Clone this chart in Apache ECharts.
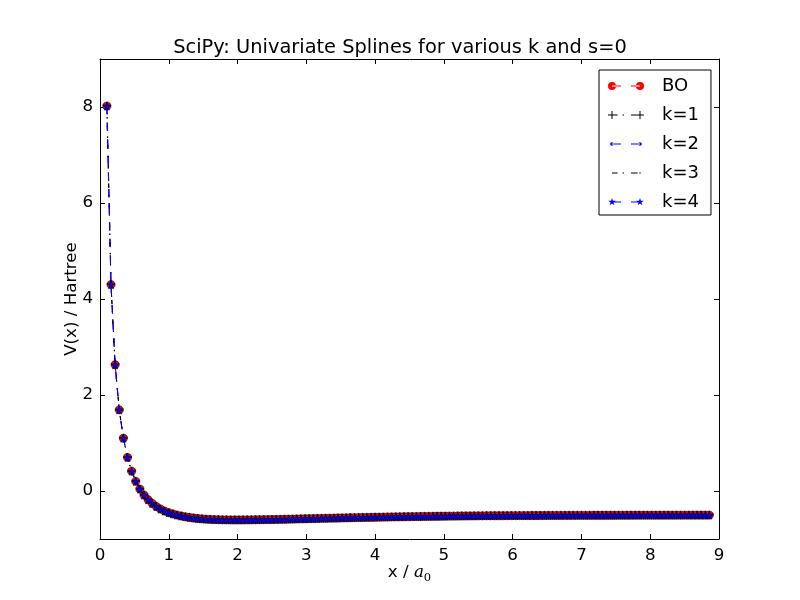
<!DOCTYPE html>
<html><head><meta charset="utf-8">
<script src="https://cdn.jsdelivr.net/npm/echarts@6/dist/echarts.min.js"></script>
<style>html,body{margin:0;padding:0;background:#fff}#c{width:800px;height:600px}</style>
</head><body><div id="c"></div>
<script>
// ---- data ----
const xs = [0.10,0.16,0.22,0.28,0.34,0.40,0.46,0.52,0.58,0.64,
0.70,0.76,0.82,0.88,0.94,1.00,1.06,1.12,1.18,1.24,
1.30,1.36,1.42,1.48,1.54,1.60,1.66,1.72,1.78,1.84,
1.90,1.96,2.02,2.08,2.14,2.20,2.26,2.32,2.38,2.44,
2.50,2.56,2.62,2.68,2.74,2.80,2.86,2.92,2.98,3.04,
3.10,3.16,3.22,3.28,3.34,3.40,3.46,3.52,3.58,3.64,
3.70,3.76,3.82,3.88,3.94,4.00,4.06,4.12,4.18,4.24,
4.30,4.36,4.42,4.48,4.54,4.60,4.66,4.72,4.78,4.84,
4.90,4.96,5.02,5.08,5.14,5.20,5.26,5.32,5.38,5.44,
5.50,5.56,5.62,5.68,5.74,5.80,5.86,5.92,5.98,6.04,
6.10,6.16,6.22,6.28,6.34,6.40,6.46,6.52,6.58,6.64,
6.70,6.76,6.82,6.88,6.94,7.00,7.06,7.12,7.18,7.24,
7.30,7.36,7.42,7.48,7.54,7.60,7.66,7.72,7.78,7.84,
7.90,7.96,8.02,8.08,8.14,8.20,8.26,8.32,8.38,8.44,
8.50,8.56,8.62,8.68,8.74,8.80,8.86];

const bo = [8.02,4.30,2.63,1.69,1.10,0.70,0.413,0.201,0.040,-0.084,
-0.182,-0.260,-0.324,-0.376,-0.418,-0.452,-0.478,-0.501,-0.521,-0.538,
-0.552,-0.563,-0.573,-0.580,-0.586,-0.591,-0.595,-0.598,-0.600,-0.6015,
-0.6024,-0.6026,-0.6025,-0.6020,-0.6012,-0.6003,-0.5992,-0.5981,-0.5968,-0.5954,
-0.5938,-0.5920,-0.5902,-0.5883,-0.5864,-0.5845,-0.5824,-0.5803,-0.5782,-0.5762,
-0.5742,-0.5721,-0.5701,-0.5682,-0.5662,-0.5643,-0.5624,-0.5606,-0.5587,-0.5569,
-0.5551,-0.5532,-0.5514,-0.5496,-0.5479,-0.5461,-0.5446,-0.5431,-0.5416,-0.5401,
-0.5387,-0.5373,-0.5360,-0.5347,-0.5334,-0.5321,-0.5309,-0.5296,-0.5284,-0.5272,
-0.5261,-0.5250,-0.5240,-0.5230,-0.5221,-0.5212,-0.5203,-0.5195,-0.5187,-0.5179,
-0.5172,-0.5165,-0.5158,-0.5152,-0.5146,-0.5141,-0.5136,-0.5131,-0.5127,-0.5122,
-0.5118,-0.5114,-0.5110,-0.5106,-0.5102,-0.5098,-0.5094,-0.5090,-0.5087,-0.5083,
-0.5080,-0.5076,-0.5073,-0.5070,-0.5067,-0.5064,-0.5062,-0.5060,-0.5057,-0.5055,
-0.5053,-0.5051,-0.5049,-0.5047,-0.5045,-0.5043,-0.5042,-0.5040,-0.5039,-0.5037,
-0.5036,-0.5035,-0.5034,-0.5033,-0.5031,-0.5030,-0.5029,-0.5028,-0.5027,-0.5027,
-0.5026,-0.5025,-0.5024,-0.5023,-0.5022,-0.5022,-0.5021];

// splines with s=0 interpolate the data exactly at the sample points
const splineK1 = bo, splineK2 = bo, splineK3 = bo, splineK4 = bo;

const seriesNames = ['BO','k=1','k=2','k=3','k=4'];
const xTicks = [0,1,2,3,4,5,6,7,8,9];
const yTicks = [0,2,4,6,8];
const titleText = 'SciPy: Univariate Splines for various k and s=0';
const yLabel = 'V(x) / Hartree';

// ---- styling ----
const FONT = 'DejaVu Sans';
const DASH = [8.3, 8.3];
const DASHDOT = [4.2, 6.9, 1.4, 6.9];
const STAR = 'path://M50,0L61.23,34.55L97.55,34.55L68.17,55.9L79.39,90.45L50,69.1L20.61,90.45L31.83,55.9L2.45,34.55L38.77,34.55Z';
const PLUS = 'path://M3.5,0H4.5V3.5H8V4.5H4.5V8H3.5V4.5H0V3.5H3.5Z';
const ANCH = 'M0,0L0,0M49,8L49,8';
const circ = (cx, r) => `M${cx-r},4A${r},${r},0,1,0,${cx+r},4A${r},${r},0,1,0,${cx-r},4Z`;
const rect = (a, b) => `M${a},3.5H${b}V4.5H${a}Z`;
const star = (dx) => `M${4+dx},0L${4.9+dx},2.76L${7.8+dx},2.76L${5.45+dx},4.47L${6.35+dx},7.24L${4+dx},5.53L${1.65+dx},7.24L${2.55+dx},4.47L${0.2+dx},2.76L${3.1+dx},2.76Z`;
const plus = (dx) => `M${3.5+dx},0H${4.5+dx}V3.5H${8+dx}V4.5H${4.5+dx}V8H${3.5+dx}V4.5H${dx}V3.5H${3.5+dx}Z`;
const icons = {
  'BO': 'path://' + ANCH + circ(4,4) + circ(32,4) + rect(4,13) + rect(23,32),
  'k=1': 'path://' + ANCH + plus(0) + plus(28) + rect(4,9.6) + rect(14.6,16) + rect(23,29.6),
  'k=2': 'path://' + ANCH + circ(4,1.8) + circ(32,1.8) + rect(4,13) + rect(23,32),
  'k=3': 'path://' + ANCH + rect(4,9.6) + rect(14.6,16) + rect(23,29.6) + rect(31.3,32.7),
  'k=4': 'path://' + ANCH + star(0) + star(28) + rect(4,13) + rect(23,32)
};

const pts = arr => xs.map((x, i) => [x, arr[i]]);
const base = {type:'line', silent:true, showAllSymbol:true, animation:false, emphasis:{disabled:true}, xAxisIndex:0, yAxisIndex:0};

const axisCommon = {
  axisLine:{show:true, onZero:false, lineStyle:{color:'#000', width:1}},
  axisTick:{show:true, inside:true, length:5, lineStyle:{color:'#000', width:1}},
  splitLine:{show:false}
};

const chart = echarts.init(document.getElementById('c'), null, {renderer:'canvas'});
chart.setOption({
  backgroundColor:'#fff',
  animation:false,
  title:{text:titleText, left:'center', top:38, padding:[0,0,0,19],
    textStyle:{fontFamily:FONT, fontSize:19.4, fontWeight:'normal', color:'#000'}},
  grid:{left:100, right:81, top:59, bottom:61, containLabel:false},
  xAxis:[
    Object.assign({}, axisCommon, {type:'value', min:0, max:9, interval:1, position:'bottom',
      axisLabel:{color:'#000', fontFamily:FONT, fontSize:16.7, margin:8},
      name:'{t|x / }{i|a}{s|0}', nameLocation:'middle', nameGap:23, nameMoveOverlap:false,
      nameTextStyle:{color:'#000', fontFamily:FONT, fontSize:16.7,
        rich:{t:{fontFamily:FONT, fontSize:16.7, lineHeight:22, color:'#000'},
              i:{fontFamily:'DejaVu Serif', fontStyle:'italic', fontSize:16.7, lineHeight:22, color:'#000'},
              s:{fontFamily:'DejaVu Serif', fontSize:11.5, lineHeight:10, verticalAlign:'bottom', color:'#000'}}}}),
    Object.assign({}, axisCommon, {type:'value', min:0, max:9, interval:1, position:'top',
      axisLabel:{show:false}})
  ],
  yAxis:[
    Object.assign({}, axisCommon, {type:'value', min:-1, max:9, interval:1, position:'left',
      axisTick:{show:true, inside:true, length:5, customValues:yTicks, lineStyle:{color:'#000', width:1}},
      axisLabel:{color:'#000', fontFamily:FONT, fontSize:16.7, margin:7, customValues:yTicks},
      name:yLabel, nameLocation:'middle', nameGap:20, nameMoveOverlap:false,
      nameTextStyle:{color:'#000', fontFamily:FONT, fontSize:16.7}}),
    Object.assign({}, axisCommon, {type:'value', min:-1, max:9, interval:1, position:'right',
      axisTick:{show:true, inside:true, length:5, customValues:yTicks, lineStyle:{color:'#000', width:1}},
      axisLabel:{show:false}})
  ],
  legend:{
    orient:'vertical', left:599, top:70, padding:[6,12,3,9], itemGap:9,
    itemWidth:49, itemHeight:8, selectedMode:false,
    backgroundColor:'#fff', borderColor:'#000', borderWidth:1, borderRadius:0,
    itemStyle:{borderWidth:0},
    textStyle:{fontFamily:FONT, fontSize:18, color:'#000', lineHeight:20},
    data: seriesNames.map(n => ({name:n, icon:icons[n]}))
  },
  series:[
    Object.assign({}, base, {name:'BO', data:pts(bo), z:2,
      lineStyle:{color:'#ff0000', width:1, type:DASH},
      symbol:'circle', symbolSize:8.3,
      itemStyle:{color:'#ff0000', borderColor:'#000', borderWidth:0.5}}),
    Object.assign({}, base, {name:'k=1', data:pts(splineK1), z:3,
      lineStyle:{color:'#000', width:1, type:DASHDOT},
      symbol:PLUS, symbolSize:8,
      itemStyle:{color:'#000'}}),
    Object.assign({}, base, {name:'k=2', data:pts(splineK2), z:4,
      lineStyle:{color:'#0000ff', width:1, type:DASH},
      symbol:'circle', symbolSize:3.5,
      itemStyle:{color:'#0000ff', borderColor:'#000', borderWidth:0.3}}),
    Object.assign({}, base, {name:'k=3', data:pts(splineK3), z:5,
      lineStyle:{color:'#000', width:1, type:DASHDOT},
      symbol:'none',
      itemStyle:{color:'#000'}}),
    Object.assign({}, base, {name:'k=4', data:pts(splineK4), z:6,
      lineStyle:{color:'#0000ff', width:1, type:DASH},
      symbol:STAR, symbolSize:8.3,
      itemStyle:{color:'#0000ff', borderColor:'#000', borderWidth:0.5}})
  ]
});
</script>
</body></html>
